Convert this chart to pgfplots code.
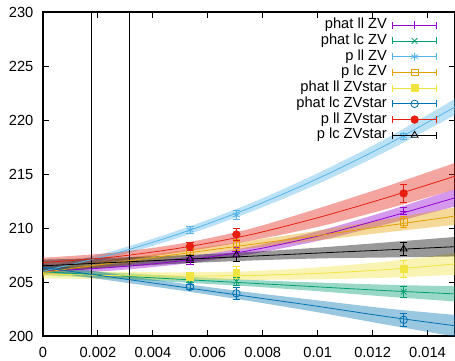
\documentclass[border=0pt]{standalone}
\usepackage{fontspec}
\setmainfont{Liberation Sans}
\usepackage{pgfplots}
\pgfplotsset{compat=1.18}
\usepackage{pgfplotstable}
\usepgfplotslibrary{fillbetween}

\definecolor{cA}{HTML}{9400D3}
\definecolor{cB}{HTML}{009E73}
\definecolor{cC}{HTML}{56B4E9}
\definecolor{cD}{HTML}{E69F00}
\definecolor{cE}{HTML}{F0E442}
\definecolor{cF}{HTML}{0072B2}
\definecolor{cG}{HTML}{E51E10}
\definecolor{cH}{HTML}{000000}

% fit bands: x y lo hi
\pgfplotstableread{
x y lo hi
0      206.00 205.70 206.30
0.0025 206.35 206.05 206.65
0.005  206.95 206.65 207.25
0.0075 207.90 207.55 208.25
0.01   209.25 208.80 209.70
0.0125 210.95 210.35 211.55
0.015  212.80 212.00 213.60
}\bA
\pgfplotstableread{
x y lo hi
0      205.95 205.65 206.25
0.0025 205.60 205.32 205.88
0.005  205.25 204.97 205.53
0.0075 204.90 204.60 205.20
0.01   204.55 204.15 204.95
0.0125 204.20 203.65 204.75
0.015  203.90 203.20 204.60
}\bB
\pgfplotstableread{
x y lo hi
0      206.00 205.70 206.30
0.0025 207.55 207.25 207.85
0.005  209.50 209.15 209.85
0.0075 211.83 211.43 212.23
0.01   214.57 214.07 215.07
0.0125 217.69 217.09 218.29
0.015  221.21 220.46 221.96
}\bC
\pgfplotstableread{
x y lo hi
0      205.90 205.60 206.20
0.0025 206.75 206.45 207.05
0.005  207.60 207.30 207.90
0.0075 208.45 208.10 208.80
0.01   209.30 208.85 209.75
0.0125 210.20 209.60 210.80
0.015  211.10 210.30 211.90
}\bD
\pgfplotstableread{
x y lo hi
0      205.75 205.35 206.15
0.0025 205.60 205.25 205.95
0.005  205.55 205.20 205.90
0.0075 205.60 205.20 206.00
0.01   205.80 205.25 206.35
0.0125 206.15 205.40 206.90
0.015  206.67 205.67 207.67
}\bE
\pgfplotstableread{
x y lo hi
0      206.35 206.00 206.70
0.0025 205.45 205.12 205.78
0.005  204.55 204.22 204.88
0.0075 203.65 203.25 204.05
0.01   202.75 202.20 203.30
0.0125 201.80 201.05 202.55
0.015  200.95 199.95 201.95
}\bF
\pgfplotstableread{
x y lo hi
0      206.80 206.35 207.25
0.0025 207.30 206.90 207.70
0.005  208.15 207.75 208.55
0.0075 209.35 208.80 209.90
0.01   210.95 210.10 211.80
0.0125 212.80 211.75 213.85
0.015  214.80 213.57 216.03
}\bG
\pgfplotstableread{
x y lo hi
0      206.50 205.93 207.07
0.0025 206.80 206.35 207.25
0.005  207.09 206.71 207.47
0.0075 207.38 206.98 207.78
0.01   207.68 207.18 208.18
0.0125 207.97 207.27 208.67
0.015  208.27 207.37 209.17
}\bH

% data points: x y e
\pgfplotstableread{
x y e
0.00535 206.95 0.30
0.00704 207.80 0.40
0.01313 211.57 0.35
}\pA
\pgfplotstableread{
x y e
0.00535 205.20 0.25
0.00704 205.05 0.35
0.01313 204.10 0.50
}\pB
\pgfplotstableread{
x y e
0.00535 209.82 0.30
0.00704 211.20 0.40
0.01313 218.50 0.30
}\pC
\pgfplotstableread{
x y e
0.00535 207.85 0.30
0.00704 208.45 0.50
0.01313 210.60 0.50
}\pD
\pgfplotstableread{
x y e
0.00535 205.50 0.35
0.00704 205.85 0.55
0.01313 206.20 0.77
}\pE
\pgfplotstableread{
x y e
0.00535 204.55 0.25
0.00704 203.95 0.55
0.01313 201.50 0.60
}\pF
\pgfplotstableread{
x y e
0.00535 208.30 0.35
0.00704 209.40 0.55
0.01313 213.20 0.80
}\pG
\pgfplotstableread{
x y e
0.00535 207.15 0.30
0.00704 207.50 0.60
0.01313 208.05 0.60
}\pH

\pgfplotsset{
  gpleg/.style={legend image code/.code={
    \draw[##1,mark=none,solid] (0pt,0pt) -- (33pt,0pt);
    \draw[##1,mark=none,solid] (0pt,-2.6pt) -- (0pt,2.6pt) (33pt,-2.6pt) -- (33pt,2.6pt);
    \draw[##1] plot coordinates {(16.5pt,0pt)};
  }},
  band/.style={fill=#1, fill opacity=0.4, draw=none, forget plot},
  fitline/.style={#1, line width=0.6pt, smooth, forget plot},
  pts/.style={#1, only marks, line width=0.6pt, mark options={solid},
    error bars/y dir=both, error bars/y explicit,
    error bars/error bar style={line width=0.6pt},
    error bars/error mark options={rotate=90, mark size=2.7pt, line width=0.6pt}},
}

\begin{document}
\begin{tikzpicture}
\begin{axis}[
  name=ax,
  scale only axis, width=309pt, height=243pt,
  xmin=0, xmax=0.015, ymin=200, ymax=230,
  xtick={0,0.002,0.004,0.006,0.008,0.01,0.012,0.014},
  xticklabels={0,0.002,0.004,0.006,0.008,0.01,0.012,0.014},
  ytick={200,205,210,215,220,225,230},
  /pgf/number format/assume math mode=true,
  tick align=inside, major tick length=4.5pt,
  axis line style={line width=0.9pt},
  tick style={line width=0.7pt, black},
  tick label style={font=\fontsize{11}{13}\selectfont},
  xticklabel style={inner sep=0pt, anchor=north, yshift=-8.2pt},
  yticklabel style={inner sep=0pt, anchor=east, xshift=-7pt},
  scaled x ticks=false,
  legend cell align=right,
  legend plot pos=right,
  legend style={draw=none, fill=none, at={(1,1)}, anchor=north east,
    xshift=-13.5pt, yshift=-4pt, inner sep=0pt, outer sep=0pt,
    font=\fontsize{11}{13}\selectfont, column sep=3.5pt,
    nodes={inner xsep=0.5pt, inner ysep=0pt, text height=8.6pt, text depth=3.2pt}},
]
% vertical lines
\addplot[black, line width=0.6pt, forget plot] coordinates {(0.00175,200) (0.00175,230)};
\addplot[black, line width=0.6pt, forget plot] coordinates {(0.00316,200) (0.00316,230)};

% bands
\addplot[name path=lA, draw=none, smooth, forget plot] table[x=x,y=lo]{\bA};
\addplot[name path=hA, draw=none, smooth, forget plot] table[x=x,y=hi]{\bA};
\addplot[band=cA] fill between[of=lA and hA];
\addplot[fitline=cA] table[x=x,y=y]{\bA};

\addplot[name path=lB, draw=none, smooth, forget plot] table[x=x,y=lo]{\bB};
\addplot[name path=hB, draw=none, smooth, forget plot] table[x=x,y=hi]{\bB};
\addplot[band=cB] fill between[of=lB and hB];
\addplot[fitline=cB] table[x=x,y=y]{\bB};

\addplot[name path=lC, draw=none, smooth, forget plot] table[x=x,y=lo]{\bC};
\addplot[name path=hC, draw=none, smooth, forget plot] table[x=x,y=hi]{\bC};
\addplot[band=cC] fill between[of=lC and hC];
\addplot[fitline=cC] table[x=x,y=y]{\bC};

\addplot[name path=lD, draw=none, smooth, forget plot] table[x=x,y=lo]{\bD};
\addplot[name path=hD, draw=none, smooth, forget plot] table[x=x,y=hi]{\bD};
\addplot[band=cD] fill between[of=lD and hD];
\addplot[fitline=cD] table[x=x,y=y]{\bD};

\addplot[name path=lE, draw=none, smooth, forget plot] table[x=x,y=lo]{\bE};
\addplot[name path=hE, draw=none, smooth, forget plot] table[x=x,y=hi]{\bE};
\addplot[band=cE] fill between[of=lE and hE];
\addplot[fitline=cE] table[x=x,y=y]{\bE};

\addplot[name path=lF, draw=none, smooth, forget plot] table[x=x,y=lo]{\bF};
\addplot[name path=hF, draw=none, smooth, forget plot] table[x=x,y=hi]{\bF};
\addplot[band=cF] fill between[of=lF and hF];
\addplot[fitline=cF] table[x=x,y=y]{\bF};

\addplot[name path=lG, draw=none, smooth, forget plot] table[x=x,y=lo]{\bG};
\addplot[name path=hG, draw=none, smooth, forget plot] table[x=x,y=hi]{\bG};
\addplot[band=cG] fill between[of=lG and hG];
\addplot[fitline=cG] table[x=x,y=y]{\bG};

\addplot[name path=lH, draw=none, smooth, forget plot] table[x=x,y=lo]{\bH};
\addplot[name path=hH, draw=none, smooth, forget plot] table[x=x,y=hi]{\bH};
\addplot[band=cH] fill between[of=lH and hH];
\addplot[fitline=cH] table[x=x,y=y]{\bH};

% data points
\addplot[pts=cA, mark=+, mark size=3pt, gpleg] table[x=x,y=y,y error=e]{\pA};
\addlegendentry{phat ll ZV}
\addplot[pts=cB, mark=x, mark size=3pt, gpleg] table[x=x,y=y,y error=e]{\pB};
\addlegendentry{phat lc ZV}
\addplot[pts=cC, mark=asterisk, mark size=3pt, gpleg] table[x=x,y=y,y error=e]{\pC};
\addlegendentry{p ll ZV}
\addplot[pts=cD, mark=square, mark size=2.6pt, gpleg] table[x=x,y=y,y error=e]{\pD};
\addlegendentry{p lc ZV}
\addplot[pts=cE, mark=square*, mark size=2.6pt, gpleg] table[x=x,y=y,y error=e]{\pE};
\addlegendentry{phat ll ZVstar}
\addplot[pts=cF, mark=o, mark size=2.8pt, gpleg] table[x=x,y=y,y error=e]{\pF};
\addlegendentry{phat lc ZVstar}
\addplot[pts=cG, mark=*, mark size=2.8pt, gpleg] table[x=x,y=y,y error=e]{\pG};
\addlegendentry{p ll ZVstar}
\addplot[pts=cH, mark=triangle, mark size=3pt, gpleg] table[x=x,y=y,y error=e]{\pH};
\addlegendentry{p lc ZVstar}
\end{axis}
\path (ax.south west) ++(-32.25pt,-18pt) coordinate (bbl);
\path (ax.north east) ++(0pt,9pt) coordinate (btr);
\pgfresetboundingbox
\path[use as bounding box] (bbl) rectangle (btr);
\end{tikzpicture}
\end{document}
